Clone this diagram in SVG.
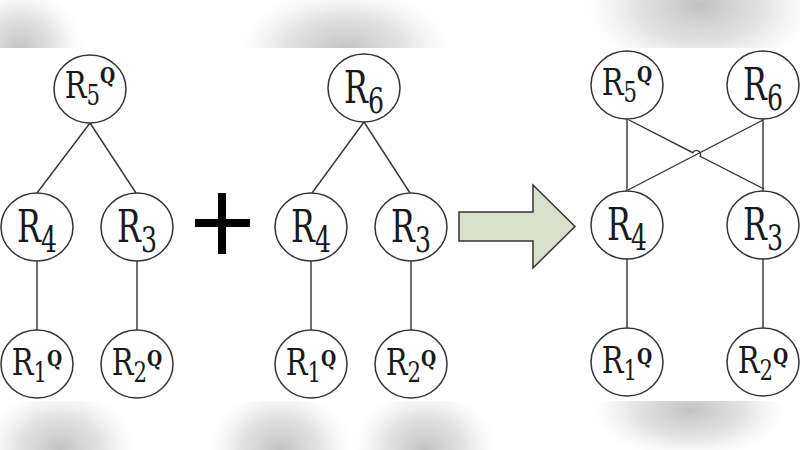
<svg xmlns="http://www.w3.org/2000/svg" width="800" height="450" viewBox="0 0 800 450">
<style>
.n ellipse{fill:#fff;stroke:#333;stroke-width:1.5}
.c line,.c path{stroke:#333;stroke-width:1.4;fill:none}
text{font-family:"DejaVu Serif","Liberation Serif",serif}
</style>
<defs>
<radialGradient id="g">
<stop offset="0" stop-color="#c2c2c2"/>
<stop offset="0.5" stop-color="#dcdcdc" stop-opacity="0.8"/>
<stop offset="1" stop-color="#ffffff" stop-opacity="0"/>
</radialGradient>
<clipPath id="topc"><rect x="0" y="0" width="800" height="48"/></clipPath>
<clipPath id="botc"><rect x="0" y="401" width="800" height="49"/></clipPath>
</defs>
<rect width="800" height="450" fill="#fff"/>
<g id="bands">
<g clip-path="url(#topc)">
<ellipse cx="20" cy="50" rx="70" ry="70" fill="url(#g)"/>
<ellipse cx="345" cy="50" rx="120" ry="70" fill="url(#g)"/>
<ellipse cx="700" cy="5" rx="130" ry="80" fill="url(#g)"/>
</g>
<g clip-path="url(#botc)">
<ellipse cx="60" cy="450" rx="85" ry="70" fill="url(#g)"/>
<ellipse cx="280" cy="450" rx="80" ry="70" fill="url(#g)"/>
<ellipse cx="425" cy="450" rx="80" ry="70" fill="url(#g)"/>
<ellipse cx="690" cy="410" rx="110" ry="55" fill="url(#g)"/>
</g>
</g>
<g id="connectors" class="c">
<line x1="90" y1="123" x2="37" y2="193"/>
<line x1="90" y1="123" x2="136" y2="193"/>
<line x1="37" y1="261" x2="37" y2="330"/>
<line x1="137" y1="261" x2="137" y2="330"/>
<line x1="364" y1="122" x2="312" y2="193"/>
<line x1="364" y1="122" x2="410" y2="193"/>
<line x1="311" y1="261" x2="311" y2="330"/>
<line x1="411" y1="261" x2="411" y2="330"/>
<line x1="627" y1="119" x2="627" y2="191"/>
<line x1="763" y1="119" x2="763" y2="191"/>
<line x1="763" y1="120" x2="628" y2="190"/>
<path d="M629,120 L692.9,152.7 A4,4 0 0 1 700.1,156.3 L764,189"/>
<line x1="627" y1="259" x2="627" y2="328"/>
<line x1="763" y1="259" x2="763" y2="328"/>
</g>
<g id="plus" fill="#000">
<rect x="218" y="193" width="8" height="61"/>
<rect x="195" y="219" width="55" height="8"/>
</g>
<g id="arrow">
<path d="M459,212 L533,212 L533,185 L575,226.5 L533,268 L533,241 L459,241 Z" fill="#d9dfca" stroke="#333" stroke-width="1.5" stroke-linejoin="miter"/>
</g>
<g fill="#1a1a1a" text-anchor="middle">
<g id="L-R5Q" class="n"><ellipse cx="90" cy="89" rx="36" ry="34"/>
<text font-size="38" transform="translate(90,98) scale(0.76,1)">R<tspan font-size="28" dy="7">5</tspan><tspan font-size="23" font-weight="bold" dy="-22">Q</tspan></text></g>
<g id="L-R4" class="n"><ellipse cx="37" cy="227" rx="36" ry="34"/>
<text font-size="44" transform="translate(37,242) scale(0.72,1)">R<tspan font-size="35" dy="10">4</tspan></text></g>
<g id="L-R3" class="n"><ellipse cx="137" cy="227" rx="36" ry="34"/>
<text font-size="44" transform="translate(137,242) scale(0.72,1)">R<tspan font-size="35" dy="10">3</tspan></text></g>
<g id="L-R1Q" class="n"><ellipse cx="37" cy="364" rx="36" ry="34"/>
<text font-size="38" transform="translate(37,375) scale(0.76,1)">R<tspan font-size="28" dy="7">1</tspan><tspan font-size="23" font-weight="bold" dy="-16">Q</tspan></text></g>
<g id="L-R2Q" class="n"><ellipse cx="137" cy="364" rx="36" ry="34"/>
<text font-size="38" transform="translate(137,375) scale(0.76,1)">R<tspan font-size="28" dy="7">2</tspan><tspan font-size="23" font-weight="bold" dy="-16">Q</tspan></text></g>
<g id="M-R6" class="n"><ellipse cx="364" cy="88" rx="36" ry="34"/>
<text font-size="44" transform="translate(364,103) scale(0.72,1)">R<tspan font-size="35" dy="10">6</tspan></text></g>
<g id="M-R4" class="n"><ellipse cx="311" cy="227" rx="36" ry="34"/>
<text font-size="44" transform="translate(311,242) scale(0.72,1)">R<tspan font-size="35" dy="10">4</tspan></text></g>
<g id="M-R3" class="n"><ellipse cx="411" cy="227" rx="36" ry="34"/>
<text font-size="44" transform="translate(411,242) scale(0.72,1)">R<tspan font-size="35" dy="10">3</tspan></text></g>
<g id="M-R1Q" class="n"><ellipse cx="311" cy="364" rx="36" ry="34"/>
<text font-size="38" transform="translate(311,375) scale(0.76,1)">R<tspan font-size="28" dy="7">1</tspan><tspan font-size="23" font-weight="bold" dy="-16">Q</tspan></text></g>
<g id="M-R2Q" class="n"><ellipse cx="411" cy="364" rx="36" ry="34"/>
<text font-size="38" transform="translate(411,375) scale(0.76,1)">R<tspan font-size="28" dy="7">2</tspan><tspan font-size="23" font-weight="bold" dy="-16">Q</tspan></text></g>
<g id="R-R5Q" class="n"><ellipse cx="627" cy="85" rx="36" ry="34"/>
<text font-size="38" transform="translate(627,95) scale(0.76,1)">R<tspan font-size="28" dy="7">5</tspan><tspan font-size="23" font-weight="bold" dy="-20">Q</tspan></text></g>
<g id="R-R6" class="n"><ellipse cx="763" cy="85" rx="36" ry="34"/>
<text font-size="44" transform="translate(763,100) scale(0.72,1)">R<tspan font-size="35" dy="10">6</tspan></text></g>
<g id="R-R4" class="n"><ellipse cx="627" cy="225" rx="36" ry="34"/>
<text font-size="44" transform="translate(627,240) scale(0.72,1)">R<tspan font-size="35" dy="10">4</tspan></text></g>
<g id="R-R3" class="n"><ellipse cx="763" cy="225" rx="36" ry="34"/>
<text font-size="44" transform="translate(763,240) scale(0.72,1)">R<tspan font-size="35" dy="10">3</tspan></text></g>
<g id="R-R1Q" class="n"><ellipse cx="627" cy="362" rx="36" ry="34"/>
<text font-size="38" transform="translate(627,373) scale(0.76,1)">R<tspan font-size="28" dy="7">1</tspan><tspan font-size="23" font-weight="bold" dy="-16">Q</tspan></text></g>
<g id="R-R2Q" class="n"><ellipse cx="763" cy="362" rx="36" ry="34"/>
<text font-size="38" transform="translate(763,373) scale(0.76,1)">R<tspan font-size="28" dy="7">2</tspan><tspan font-size="23" font-weight="bold" dy="-16">Q</tspan></text></g>
</g>
</svg>
